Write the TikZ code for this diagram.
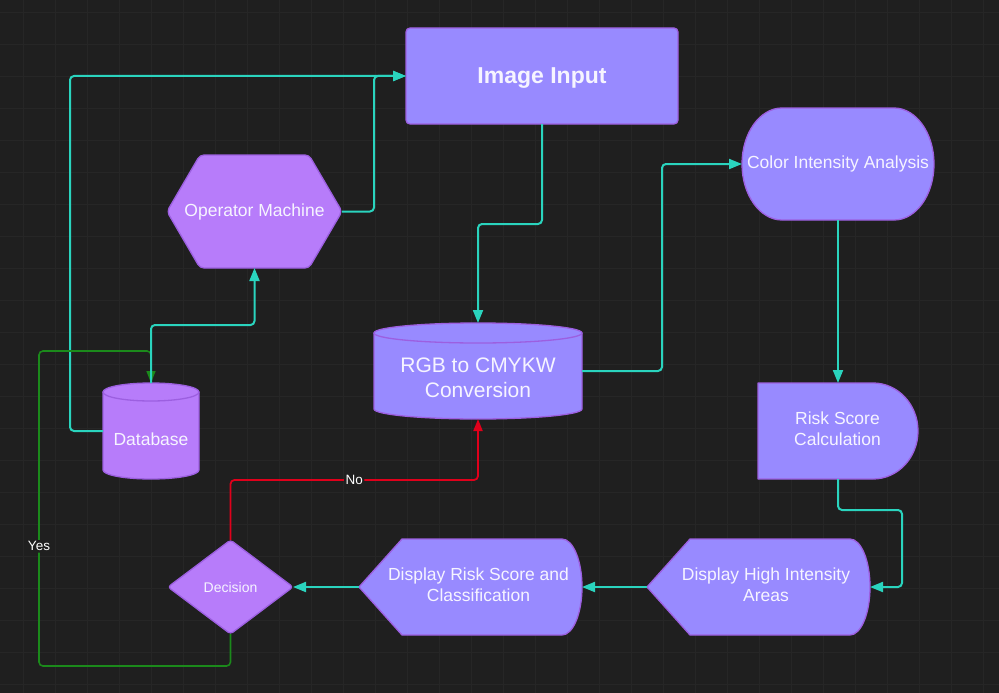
\documentclass[tikz,border=0pt]{standalone}
\usepackage{fontspec}
\setmainfont{Liberation Sans}
\usetikzlibrary{arrows.meta,calc}
\definecolor{bgc}{HTML}{1F1F1F}
\definecolor{gridc}{HTML}{262626}
\definecolor{lav}{HTML}{988AFF}
\definecolor{orch}{HTML}{B77CFA}
\definecolor{edgec}{HTML}{9C5FE0}
\definecolor{tealc}{HTML}{2AD4BE}
\definecolor{redc}{HTML}{E0001B}
\definecolor{greenc}{HTML}{1B8A1B}
\definecolor{txt}{HTML}{F6F4FF}
\newcommand\myfont{\fontsize{17.5}{21}\selectfont}
\begin{document}
\begin{tikzpicture}[x=1pt,y=-1pt,
  shp/.style={draw=edgec, line width=1.3pt, line join=round},
  frame/.style={inner sep=0pt, outer sep=0pt, align=center, text=txt},
  conn/.style={draw=tealc, line width=2pt, rounded corners=4pt, -{Triangle[length=13pt,width=10pt]}},
  redconn/.style={draw=redc, line width=1.8pt, rounded corners=4pt, -{Triangle[length=12pt,width=9pt]}},
  greenconn/.style={draw=greenc, line width=1.6pt, rounded corners=4pt, -{Triangle[length=12pt,width=9pt]}},
  lbl/.style={fill=bgc, text=white, font=\fontsize{13.5}{16}\selectfont, inner sep=1.5pt}]
\useasboundingbox (0,0) rectangle (999,693);
\fill[bgc] (0,0) rectangle (999,693);
\foreach \x in {23,55,...,999} \draw[gridc, line width=0.6pt] (\x,0) -- (\x,693);
\foreach \y in {12,44,...,693} \draw[gridc, line width=0.6pt] (0,\y) -- (999,\y);

% shapes
\draw[shp, fill=lav, rounded corners=4pt] (406,28) rectangle (678,124);
\draw[shp, fill=orch, rounded corners=4pt] (167,211.5) -- (200,155) -- (309,155) -- (342,211.5) -- (309,268) -- (200,268) -- cycle;
\draw[shp, fill=lav] (782,108) -- (894,108) .. controls (916.1,108) and (934,133.1) .. (934,164) .. controls (934,194.9) and (916.1,220) .. (894,220) -- (782,220) .. controls (759.9,220) and (742,194.9) .. (742,164) .. controls (742,133.1) and (759.9,108) .. (782,108) -- cycle;
\draw[shp, fill=lav] (873,383) .. controls (897.9,383) and (918,404.5) .. (918,431) .. controls (918,457.5) and (897.9,479) .. (873,479) -- (758,479) -- (758,383) -- cycle;
\draw[shp, fill=lav] (647,587) -- (690,539) -- (850,539) .. controls (861,539) and (870,560.5) .. (870,587) .. controls (870,613.5) and (861,635) .. (850,635) -- (690,635) -- cycle;
\draw[shp, fill=lav] (359,587) -- (402,539) -- (562,539) .. controls (573,539) and (582,560.5) .. (582,587) .. controls (582,613.5) and (573,635) .. (562,635) -- (402,635) -- cycle;
\draw[shp, fill=orch, rounded corners=3pt] (168,587) -- (230.5,540) -- (293,587) -- (230.5,634) -- cycle;
% cylinders
\draw[shp, fill=lav] (374,333) -- (374,409) .. controls (374,414.5) and (420.6,419) .. (478,419) .. controls (535.4,419) and (582,414.5) .. (582,409) -- (582,333) -- cycle;
\draw[shp, fill=lav] (478,333) ellipse [x radius=104pt, y radius=10pt];
\draw[shp, fill=orch] (103,392) -- (103,470) .. controls (103,475) and (124.5,479) .. (151,479) .. controls (177.5,479) and (199,475) .. (199,470) -- (199,392) -- cycle;
\draw[shp, fill=orch] (151,392) ellipse [x radius=48pt, y radius=9pt];

% nodes
\node[frame, minimum width=272pt, minimum height=96pt] (img) at (542,76) {};
\node[frame, font=\bfseries\fontsize{23}{27}\selectfont] (imgt) at (542,78.5) {Image Input};
\node[frame, minimum width=175pt, minimum height=113pt, font=\myfont] (om) at (254.5,211.5) {Operator Machine};
\node[frame, minimum width=192pt, minimum height=112pt, font=\myfont] (cia) at (838,164) {Color Intensity Analysis};
\node[frame, minimum width=208pt, minimum height=96pt] (rgb) at (478,371) {};
\node[frame, font=\fontsize{21}{25}\selectfont] (rgbt) at (478,378) {RGB to CMYKW\\Conversion};
\node[frame, minimum width=96pt, minimum height=96pt] (db) at (151,431) {};
\node[frame, font=\myfont] (dbt) at (151,439) {Database};
\node[frame, minimum width=160pt, minimum height=96pt] (rsc) at (838,431) {};
\node[frame, font=\myfont] (rsct) at (837.5,429) {Risk Score\\Calculation};
\node[frame, minimum width=223pt, minimum height=96pt] (dhi) at (758.5,587) {};
\node[frame, font=\myfont] (dhit) at (766,585) {Display High Intensity\\Areas};
\node[frame, minimum width=223pt, minimum height=96pt] (drs) at (470.5,587) {};
\node[frame, font=\myfont] (drst) at (478.5,585) {Display Risk Score and\\Classification};
\node[frame, minimum width=125pt, minimum height=94pt, font=\fontsize{14}{17}\selectfont] (dec) at (230.5,587) {Decision};
\coordinate (yc) at (39,351);

% connectors
\draw[conn] (om.east) -- ++(32,0) |- (img.west);
\draw[conn] (db.west) -- ++(-33,0) |- (img.west);
\draw[conn] (img.south) -- ++(0,100) -| (rgb.north);
\draw[conn] (rgb.east) -- ++(80,0) |- (cia.west);
\draw[conn] (cia.south) -- (rsc.north);
\draw[conn] (rsc.south) -- ++(0,31) -| ([xshift=32pt]dhi.east) -- (dhi.east);
\draw[conn] (dhi.west) -- (drs.east);
\draw[conn] (drs.west) -- (dec.east);
\draw[redconn] (dec.north) -- ++(0,-60) -| node[pos=0.25, lbl] {No} (rgb.south);
\draw[greenconn] (dec.south) -- ++(0,32) -| node[pos=0.69, lbl] {Yes} (yc) -| (db.north);
\draw[conn] (db.north) -- ++(0,-58) -| (om.south);
\end{tikzpicture}
\end{document}
